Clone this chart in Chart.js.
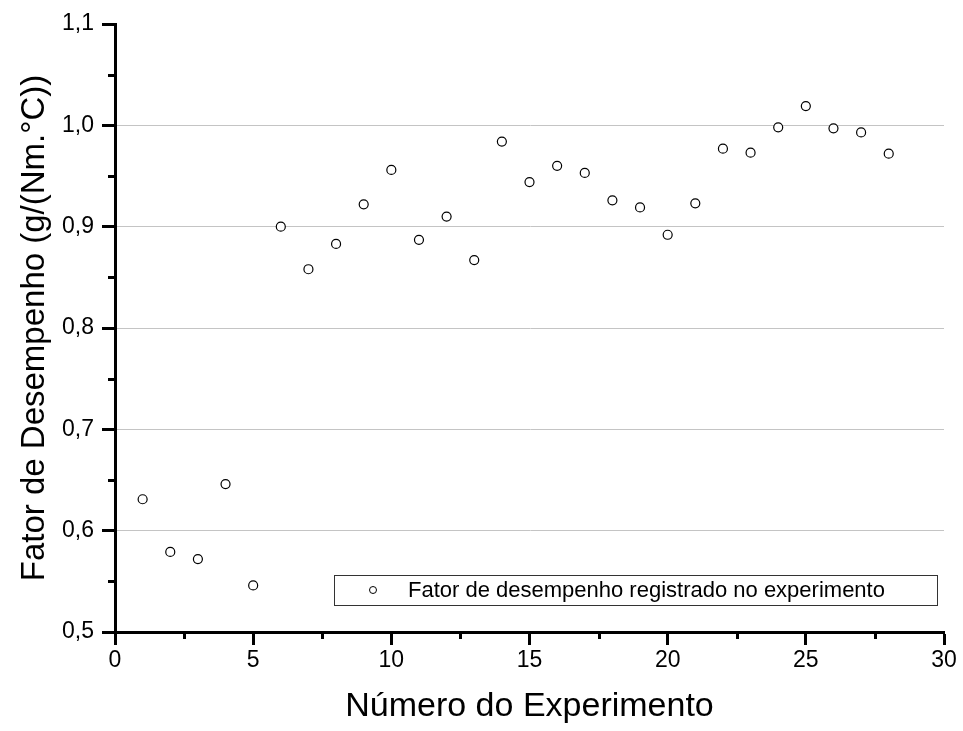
<!DOCTYPE html>
<html>
<head>
<meta charset="utf-8">
<script src="https://cdn.jsdelivr.net/npm/chart.js@4/dist/chart.umd.min.js"></script>
<style>
    body { margin: 0; background: #fff; }
    canvas { display: block; }
</style>
</head>
<body>
<canvas id="chart" width="963" height="731"></canvas>
<script>
// Numero do experimento e fator de desempenho lido em cada um
const experimentos = [1, 2, 3, 4, 5, 6, 7, 8, 9, 10, 11, 12, 13, 14, 15, 16, 17, 18, 19, 20, 21, 22, 23, 24, 25, 26, 27, 28];
const fatorDesempenho = [0.631, 0.579, 0.572, 0.646, 0.546, 0.900, 0.858, 0.883, 0.922, 0.956,
    0.887, 0.910, 0.867, 0.984, 0.944, 0.960, 0.953, 0.926, 0.919, 0.892,
    0.923, 0.977, 0.973, 0.998, 1.019, 0.997, 0.993, 0.972];
const serieLabel = 'Fator de desempenho registrado no experimento';
const xTitle = 'Número do Experimento';
const yTitle = 'Fator de Desempenho (g/(Nm.°C))';
const xMinorTicks = [2.5, 7.5, 12.5, 17.5, 22.5, 27.5];
const yMinorTicks = [0.55, 0.65, 0.75, 0.85, 0.95, 1.05];

const FONT = '"Liberation Sans", Arial, sans-serif';

// short minor ticks, Chart.js only does one tick length per axis
const minorTicks = {
    id: 'minorTicks',
    afterDraw(chart) {
        const ctx = chart.ctx;
        const x = chart.scales.x;
        const y = chart.scales.y;
        ctx.save();
        ctx.strokeStyle = '#000';
        ctx.lineWidth = 3;
        ctx.beginPath();
        xMinorTicks.forEach(v => {
            const px = Math.round(x.getPixelForValue(v)) + 0.5;
            ctx.moveTo(px, y.bottom);
            ctx.lineTo(px, y.bottom + 7);
        });
        yMinorTicks.forEach(v => {
            const py = Math.round(y.getPixelForValue(v)) + 0.5;
            ctx.moveTo(x.left, py);
            ctx.lineTo(x.left - 7, py);
        });
        ctx.stroke();
        ctx.restore();
    }
};

// legend box inside the plot, bottom right
const boxLegend = {
    id: 'boxLegend',
    afterDraw(chart) {
        const ctx = chart.ctx;
        const area = chart.chartArea;
        const ds = chart.data.datasets[0];
        const w = 603, h = 30;
        const left = area.right - 7 - w;
        const top = area.bottom - 27 - h;
        ctx.save();
        ctx.strokeStyle = '#333';
        ctx.lineWidth = 1;
        ctx.strokeRect(left + 0.5, top + 0.5, w, h);
        ctx.beginPath();
        ctx.arc(left + 39, top + h / 2, 3.5, 0, Math.PI * 2);
        ctx.fillStyle = ds.pointBackgroundColor;
        ctx.fill();
        ctx.strokeStyle = ds.pointBorderColor;
        ctx.lineWidth = 1;
        ctx.stroke();
        ctx.fillStyle = '#000';
        ctx.font = '22px ' + FONT;
        ctx.textBaseline = 'middle';
        ctx.fillText(ds.label, left + 74, top + h / 2 + 1);
        ctx.restore();
    }
};

const data = {
    datasets: [{
        label: serieLabel,
        data: experimentos.map((n, i) => ({ x: n, y: fatorDesempenho[i] })),
        showLine: false,
        pointStyle: 'circle',
        pointRadius: 4.5,
        pointBorderWidth: 1.2,
        pointBorderColor: '#000',
        pointBackgroundColor: '#fff'
    }]
};

new Chart(document.getElementById('chart'), {
    type: 'scatter',
    data: data,
    options: {
        responsive: false,
        animation: false,
        layout: { padding: { left: 0, top: 24, right: 19, bottom: 0 } },
        plugins: {
            legend: { display: false },
            tooltip: { enabled: false }
        },
        scales: {
            x: {
                type: 'linear',
                min: 0,
                max: 30,
                afterFit: s => { s.height = 99; },
                ticks: {
                    stepSize: 5,
                    color: '#000',
                    padding: 2,
                    font: { family: FONT, size: 23 }
                },
                grid: {
                    drawOnChartArea: false,
                    tickLength: 13,
                    tickWidth: 3,
                    tickColor: '#000'
                },
                border: { display: true, color: '#000', width: 3 },
                title: {
                    display: true,
                    text: xTitle,
                    color: '#000',
                    font: { family: FONT, size: 34 },
                    padding: { top: 0, bottom: 4 }
                }
            },
            y: {
                min: 0.5,
                max: 1.1,
                afterFit: s => { s.width = 115; },
                ticks: {
                    stepSize: 0.1,
                    color: '#000',
                    padding: 8,
                    font: { family: FONT, size: 23 },
                    callback: v => v.toFixed(1).replace('.', ',')
                },
                grid: {
                    color: c => (c.tick && c.tick.value > 0.55 && c.tick.value < 1.05) ? '#c4c4c4' : 'rgba(0,0,0,0)',
                    lineWidth: 1,
                    tickLength: 13,
                    tickWidth: 3,
                    tickColor: '#000'
                },
                border: { display: true, color: '#000', width: 3 },
                title: {
                    display: true,
                    text: yTitle,
                    color: '#000',
                    font: { family: FONT, size: 33 },
                    padding: { top: 15, bottom: 0 }
                }
            }
        }
    },
    plugins: [minorTicks, boxLegend]
});
</script>
</body>
</html>
